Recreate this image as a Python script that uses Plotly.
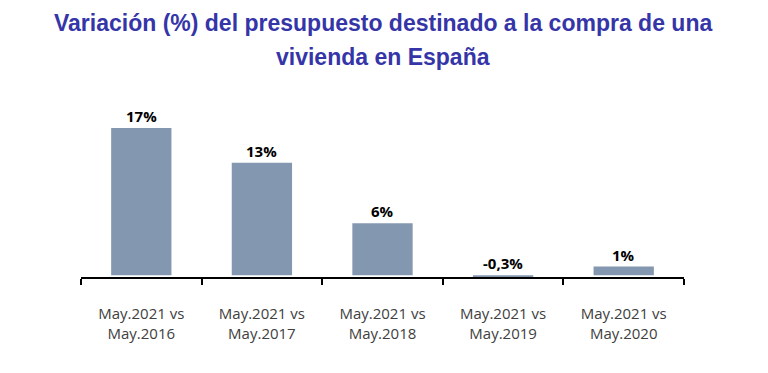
import plotly.graph_objects as go

categories = ["May.2021 vs<br>May.2016", "May.2021 vs<br>May.2017", "May.2021 vs<br>May.2018",
              "May.2021 vs<br>May.2019", "May.2021 vs<br>May.2020"]
values = [17, 13, 6, -0.3, 1]
labels = ["17%", "13%", "6%", "-0,3%", "1%"]
title_lines = ["Variación (%) del presupuesto destinado a la compra de una", "vivienda en España"]

fig = go.Figure()
fig.add_trace(go.Bar(x=categories, y=values, marker=dict(color="#8497b0", line=dict(width=0)),
                     width=0.5, hoverinfo="skip"))

for c, v, t in zip(categories, values, labels):
    fig.add_annotation(x=c, y=max(v, 0), text=t, showarrow=False, yanchor="bottom", yshift=0,
                       font=dict(family="Open Sans", size=15, color="#000000", weight="bold"))

title_y = [1.565, 1.36]
for line, yy in zip(title_lines, title_y):
    fig.add_annotation(xref="paper", yref="paper", x=0.5, y=yy, text=line, showarrow=False,
                       xanchor="center", yanchor="middle",
                       font=dict(family="Liberation Sans", size=23, color="#3535a8", weight="bold"))

fig.update_layout(
    width=760, height=365,
    margin=dict(l=73, r=84, t=107, b=96, autoexpand=False),
    paper_bgcolor="white", plot_bgcolor="white",
    showlegend=False,
    xaxis=dict(showline=True, linecolor="#000000", linewidth=2, ticks="outside", tickson="boundaries",
               ticklen=6, tickwidth=2, tickcolor="#000000", ticklabelstandoff=22, automargin=False,
               tickfont=dict(family="Open Sans", size=15, color="#404040"), showgrid=False, zeroline=False),
    yaxis=dict(range=[-0.2, 18.5], visible=False, showgrid=False, zeroline=False, automargin=False),
)

fig.write_html("out.html")
